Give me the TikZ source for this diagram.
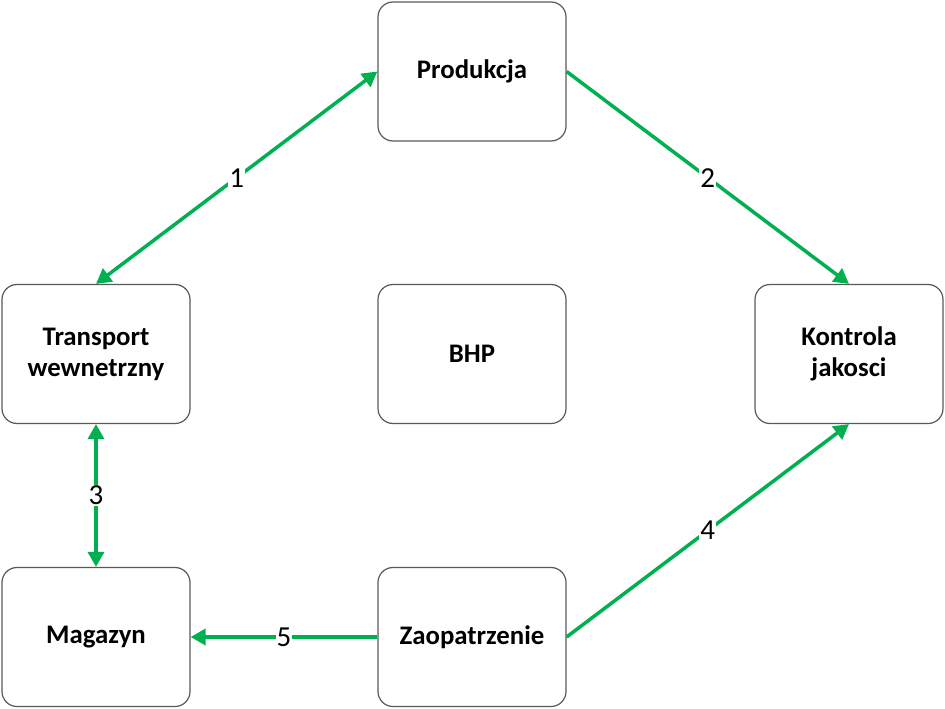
\documentclass[tikz,border=0pt]{standalone}
\usepackage{fontspec}
\setmainfont{Carlito}
\usetikzlibrary{arrows.meta}
\definecolor{arrowgreen}{HTML}{00B050}
\definecolor{boxgray}{HTML}{595959}
\begin{document}
\begin{tikzpicture}[x=1pt,y=-1pt,
  box/.style={draw=boxgray,line width=1.2pt,rounded corners=15pt,fill=white,
    minimum width=188pt,minimum height=139pt,inner sep=0pt,align=center,
    font=\fontsize{26.8}{31}\selectfont\bfseries},
  conn/.style={draw=arrowgreen,line width=3.5pt,-{Triangle[length=15pt,width=16pt]}},
  biconn/.style={draw=arrowgreen,line width=3.5pt,{Triangle[length=15pt,width=16pt]}-{Triangle[length=15pt,width=16pt]}},
  lbl/.style={fill=white,inner sep=1pt,font=\fontsize{29}{30}\selectfont}]
\useasboundingbox (0,0) rectangle (945,709);
\node[box] (prod) at (472,71.5) {Produkcja};
\node[box] (trans) at (96,354) {Transport\\wewnetrzny};
\node[box] (bhp) at (472,354) {BHP};
\node[box] (kontr) at (849,354) {Kontrola\\jakosci};
\node[box] (mag) at (96,637) {Magazyn};
\node[box] (zaop) at (472,637) {Zaopatrzenie};
\draw[biconn] (trans.north) -- node[lbl] {1} (prod.west);
\draw[conn] (prod.east) -- node[lbl] {2} (kontr.north);
\draw[biconn] (trans.south) -- node[lbl] {3} (mag.north);
\draw[conn] (zaop.east) -- node[lbl] {4} (kontr.south);
\draw[conn] (zaop.west) -- node[lbl] {5} (mag.east);
\end{tikzpicture}
\end{document}
